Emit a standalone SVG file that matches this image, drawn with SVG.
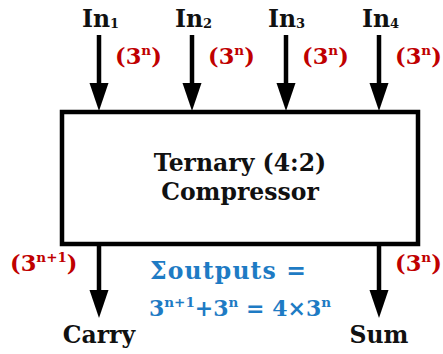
<svg xmlns="http://www.w3.org/2000/svg" width="443" height="354" viewBox="0 0 443 354">
<defs>
<style>
text{font-family:"DejaVu Serif","Liberation Serif",serif;font-weight:bold}
.lbl{font-size:23.5px;fill:#111}
.red{font-size:22.5px;fill:#C00000}
.blue{font-size:22px;fill:#1E7BC4}
.sub{font-size:13px}
.sup{font-size:13.5px}
.wire{stroke:#000;stroke-width:4.5;fill:none}
.head{fill:#000}
</style>
</defs>
<g id="connectors">
<g id="in1-arrow"><line class="wire" x1="99" y1="35" x2="99" y2="90"/><polygon class="head" points="89.5,83 108.5,83 99,111"/></g>
<g id="in2-arrow"><line class="wire" x1="192" y1="35" x2="192" y2="90"/><polygon class="head" points="182.5,83 201.5,83 192,111"/></g>
<g id="in3-arrow"><line class="wire" x1="286" y1="35" x2="286" y2="90"/><polygon class="head" points="276.5,83 295.5,83 286,111"/></g>
<g id="in4-arrow"><line class="wire" x1="379" y1="35" x2="379" y2="90"/><polygon class="head" points="369.5,83 388.5,83 379,111"/></g>
<g id="carry-arrow"><line class="wire" x1="99" y1="244" x2="99" y2="296"/><polygon class="head" points="89.5,290 108.5,290 99,318"/></g>
<g id="sum-arrow"><line class="wire" x1="379" y1="244" x2="379" y2="296"/><polygon class="head" points="369.5,290 388.5,290 379,318"/></g>
</g>
<g id="compressor">
<rect x="62" y="112" width="356" height="132" fill="#fff" stroke="#000" stroke-width="4.5"/>
<text class="lbl" x="240" y="171" text-anchor="middle">Ternary (4:2)</text>
<text class="lbl" x="240" y="200" text-anchor="middle">Compressor</text>
</g>
<g id="in1"><text class="lbl" x="82" y="27">In<tspan class="sub" dy="1">1</tspan></text></g>
<g id="in2"><text class="lbl" x="175" y="27">In<tspan class="sub" dy="1">2</tspan></text></g>
<g id="in3"><text class="lbl" x="268" y="27">In<tspan class="sub" dy="1">3</tspan></text></g>
<g id="in4"><text class="lbl" x="362" y="27">In<tspan class="sub" dy="1">4</tspan></text></g>
<g id="w1"><text class="red" x="115" y="64">(3<tspan class="sup" dy="-9">n</tspan><tspan dy="9">)</tspan></text></g>
<g id="w2"><text class="red" x="208" y="64">(3<tspan class="sup" dy="-9">n</tspan><tspan dy="9">)</tspan></text></g>
<g id="w3"><text class="red" x="302" y="64">(3<tspan class="sup" dy="-9">n</tspan><tspan dy="9">)</tspan></text></g>
<g id="w4"><text class="red" x="395" y="64">(3<tspan class="sup" dy="-9">n</tspan><tspan dy="9">)</tspan></text></g>
<g id="wc"><text class="red" x="10" y="271">(3<tspan class="sup" dy="-9">n+1</tspan><tspan dy="9">)</tspan></text></g>
<g id="ws"><text class="red" x="395" y="271">(3<tspan class="sup" dy="-9">n</tspan><tspan dy="9">)</tspan></text></g>
<g id="carry"><text class="lbl" x="99" y="343" text-anchor="middle">Carry</text></g>
<g id="sum"><text class="lbl" x="379" y="343" text-anchor="middle">Sum</text></g>
<g id="note">
<text class="blue" x="150" y="279" style="font-size:23.5px" textLength="156" lengthAdjust="spacing">Σoutputs =</text>
<text class="blue" x="240" y="316" text-anchor="middle">3<tspan class="sup" dy="-9">n+1</tspan><tspan dy="9">+3</tspan><tspan class="sup" dy="-9">n</tspan><tspan dy="9"> = 4×3</tspan><tspan class="sup" dy="-9">n</tspan></text>
</g>
</svg>
